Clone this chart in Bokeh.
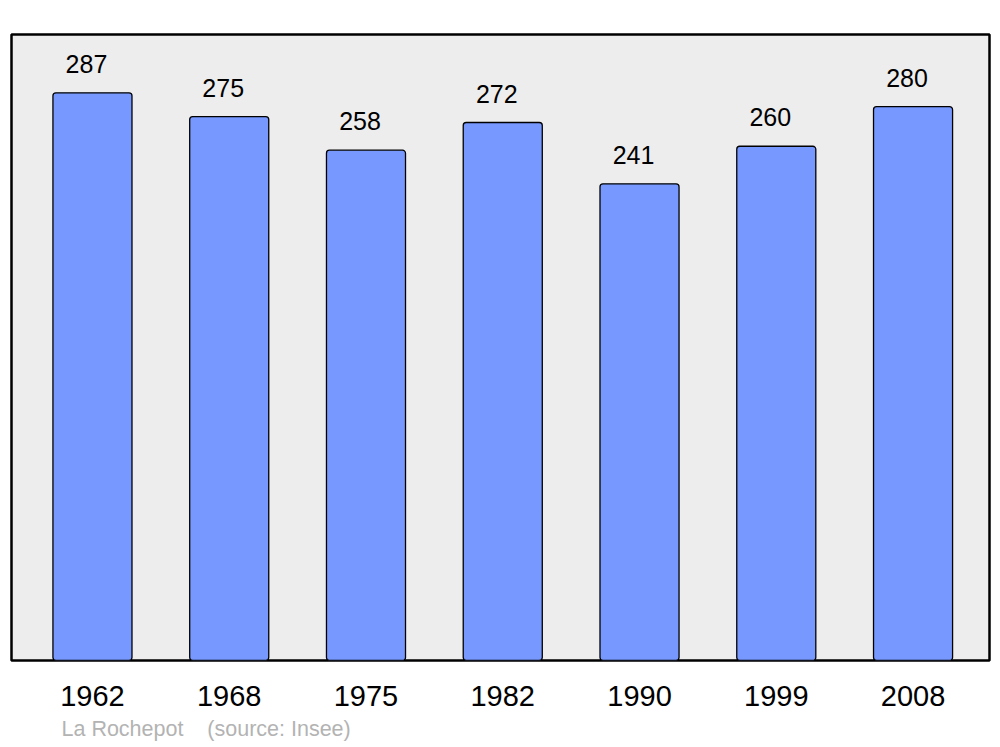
from bokeh.plotting import figure
from bokeh.models import Range1d, FixedTicker, Title, ColumnDataSource
from bokeh.core.properties import value
from bokeh.embed import file_html
from bokeh.resources import INLINE

years = ["1962", "1968", "1975", "1982", "1990", "1999", "2008"]
population = [287, 275, 258, 272, 241, 260, 280]
source_text = "La Rochepot\u00a0\u00a0\u00a0\u00a0(source: Insee)"

FONT = "Liberation Sans"
xs = list(range(len(years)))
src = ColumnDataSource(dict(x=xs, top=population, label=[str(v) for v in population]))

p = figure(width=992, height=747, output_backend="svg", toolbar_location=None,
           x_range=Range1d(-0.592, 6.559), y_range=Range1d(0, 316.5),
           min_border_left=11, min_border_right=3, min_border_top=34, min_border_bottom=10)

p.background_fill_color = "#ededed"
p.border_fill_color = "white"
p.outline_line_color = "black"
p.outline_line_width = 2.5
p.grid.visible = False
p.yaxis.visible = False

p.vbar(x="x", top="top", bottom=0, width=0.578, source=src,
       fill_color="#7799ff", line_color="black", line_width=1.3, border_radius=3)

p.text(x="x", y="top", text="label", source=src, x_offset=-6, y_offset=-29,
       text_align="center", text_baseline="alphabetic",
       text_font=value(FONT), text_font_size="25px", text_color="black")

ax = p.xaxis[0]
ax.ticker = FixedTicker(ticks=xs)
ax.major_label_overrides = {i: y for i, y in enumerate(years)}
ax.axis_line_color = None
ax.major_tick_line_color = None
ax.minor_tick_line_color = None
ax.major_tick_out = 0
ax.major_tick_in = 0
ax.major_label_standoff = 25
ax.major_label_text_font = FONT
ax.major_label_text_font_size = "29px"
ax.major_label_text_color = "black"

t = Title(text=source_text, align="left", offset=50, text_font=FONT,
          text_font_size="21.5px", text_color="#b3b3b3", text_font_style="normal",
          standoff=13)
p.add_layout(t, "below")

open("out.html", "w").write(file_html(p, INLINE))
